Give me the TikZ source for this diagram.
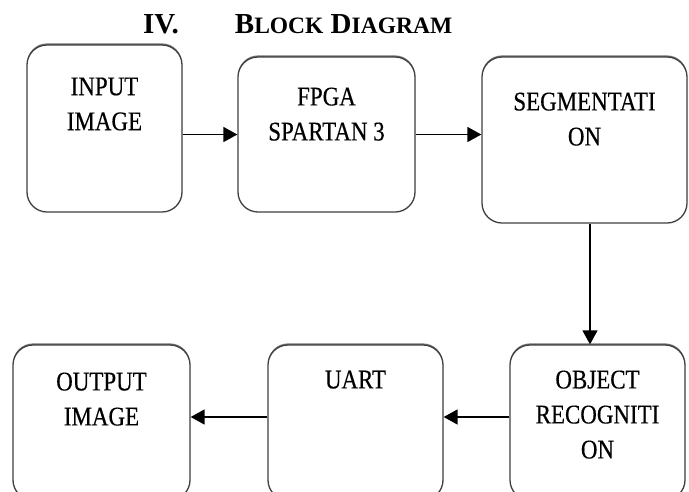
\documentclass[tikz,border=0pt]{standalone}
\usepackage{fontspec}
\setmainfont{Liberation Serif}
\newfontfamily\boxfont[FakeStretch=0.85, FakeBold=0.4]{Liberation Serif}
\usetikzlibrary{positioning, arrows.meta, shadows}

\begin{document}
\begin{tikzpicture}[x=1pt, y=-1pt]

  \tikzset{
    blockbox/.style={
        shape=rectangle,
        draw=black!75,
        line width=1.3pt,
        rounded corners=20pt,
        fill=white,
        drop shadow={shadow xshift=0pt, shadow yshift=1.6pt, fill=black!55, opacity=1},
        inner sep=0pt
      },
    blocktext/.style={
        anchor=north,
        align=center,
        inner sep=0pt,
        text=black,
        font=\boxfont\fontsize{27}{35}\selectfont
      },
    flowarrow/.style={
        line width=1.6pt,
        -{Triangle[length=14pt, width=15pt]}
      }
  }

  \useasboundingbox (0,0) rectangle (689,491);
  \clip (0,0) rectangle (689,491);

  \node[anchor=base west, inner sep=0pt, font=\bfseries\fontsize{29}{34}\selectfont] (title) at (143,33)
    {IV.\hspace{56pt}B{\fontsize{23.5}{25}\selectfont LOCK} D{\fontsize{23.5}{25}\selectfont IAGRAM}};

  \node[blockbox, minimum width=155pt, minimum height=167pt,
    label={[blocktext, yshift=-33pt]north:{INPUT\\IMAGE}}] (input) at (104.5,128.5) {};
  \node[blockbox, minimum width=177pt, minimum height=155pt,
    label={[blocktext, yshift=-31pt]north:{FPGA\\SPARTAN 3}}] (fpga) at (326.5,134.5) {};
  \node[blockbox, minimum width=205pt, minimum height=166pt,
    label={[blocktext, yshift=-36pt]north:{SEGMENTATI\\ON}}] (seg) at (584.5,140) {};

  \node[blockbox, minimum width=175pt, minimum height=155pt,
    label={[blocktext, yshift=-26pt]north:{OBJECT\\RECOGNITI\\ON}}] (obj) at (597.5,422.5) {};
  \node[blockbox, minimum width=175pt, minimum height=155pt,
    label={[blocktext, yshift=-26pt]north:{UART}}] (uart) at (355.5,422.5) {};
  \node[blockbox, minimum width=177pt, minimum height=155pt,
    label={[blocktext, yshift=-28pt]north:{OUTPUT\\IMAGE}}] (output) at (101.5,422.5) {};

  \draw[flowarrow] (input.east |- fpga.west) -- (fpga.west);
  \draw[flowarrow] (fpga.east) -- (seg.west |- fpga.east);
  \draw[flowarrow] ([xshift=5.5pt]seg.south) -- ([xshift=5.5pt]seg.south |- obj.north);
  \draw[flowarrow] ([yshift=5.5pt]obj.west) -- ([yshift=5.5pt]uart.east);
  \draw[flowarrow] ([yshift=5.5pt]uart.west) -- ([yshift=5.5pt]output.east);
\end{tikzpicture}
\end{document}
